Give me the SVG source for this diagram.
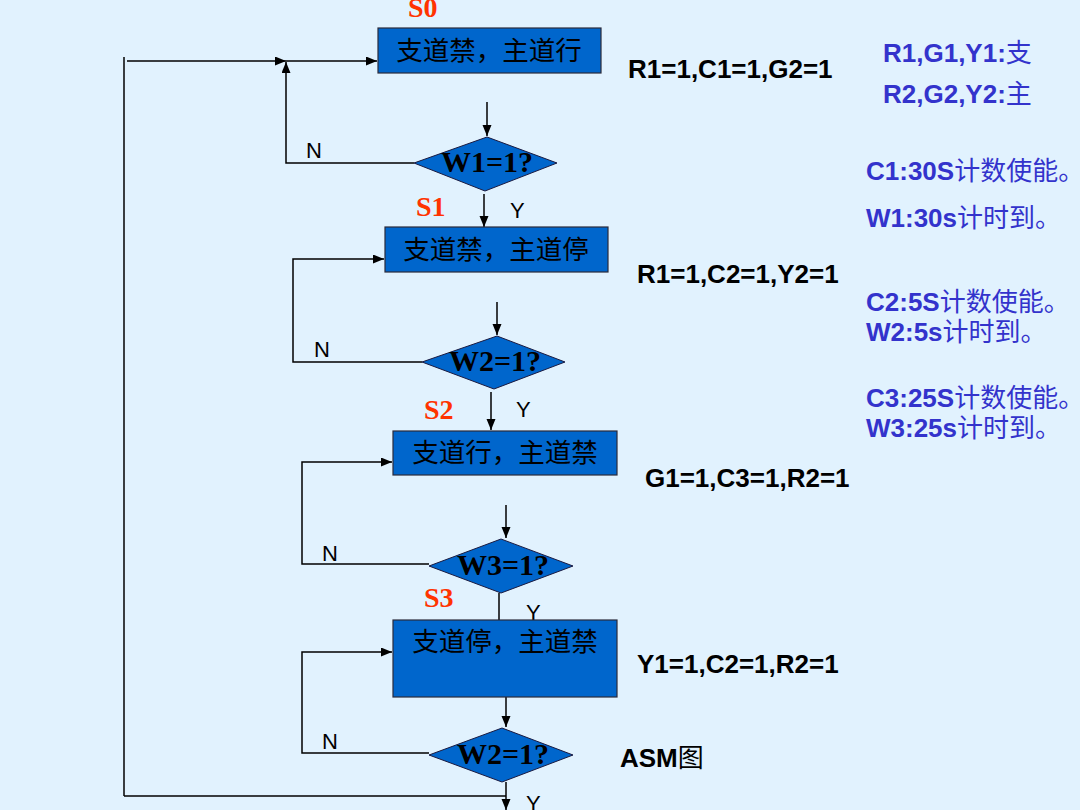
<svg xmlns="http://www.w3.org/2000/svg" width="1080" height="810" viewBox="0 0 1080 810">
<style>
.box{fill:#0066cc;stroke:#2a2a3a;stroke-width:1.2}
.dia{fill:#0066cc;stroke:#1a1a40;stroke-width:1}
.bt{font-family:"Noto Sans CJK SC",sans-serif;font-size:26.5px;fill:#000;text-anchor:middle}
.dt{font-family:"Liberation Serif","Times New Roman",serif;font-size:30px;font-weight:bold;fill:#000;text-anchor:middle}
.st{font-family:"Liberation Serif","Times New Roman",serif;font-size:28px;font-weight:bold;fill:#ff3300}
.yn{font-family:"Liberation Sans",Arial,sans-serif;font-size:22px;fill:#000}
.eq{font-family:"Liberation Sans",Arial,"Noto Sans CJK SC",sans-serif;font-size:26px;font-weight:bold;fill:#000}
.note{font-family:"Liberation Sans",Arial,"Noto Sans CJK SC",sans-serif;font-size:26px;font-weight:bold;fill:#3333cc}
.cj{font-family:"Noto Sans CJK SC",sans-serif;font-weight:normal}
.ln{fill:none;stroke:#000;stroke-width:1.5}
</style>
<defs>
<marker id="ah" markerUnits="userSpaceOnUse" markerWidth="12" markerHeight="10" refX="11" refY="4.5" orient="auto">
<path d="M0,0 L11,4.5 L0,9 z" fill="#000"/>
</marker>
</defs>
<rect width="1080" height="810" fill="#e1f2fe"/>

<g id="connectors">
<line class="ln" x1="124" y1="57" x2="124" y2="796"/>
<line class="ln" x1="124" y1="796" x2="506" y2="796"/>
<line class="ln" x1="127" y1="61" x2="286" y2="61" marker-end="url(#ah)"/>
<line class="ln" x1="286" y1="61" x2="377" y2="61" marker-end="url(#ah)"/>
<polyline class="ln" points="414,163 286,163 286,62" marker-end="url(#ah)"/>
<line class="ln" x1="487" y1="102" x2="487" y2="136" marker-end="url(#ah)"/>
<line class="ln" x1="484" y1="194" x2="484" y2="227" marker-end="url(#ah)"/>
<polyline class="ln" points="422,362 293,362 293,259 384,259" marker-end="url(#ah)"/>
<line class="ln" x1="497" y1="302" x2="497" y2="335" marker-end="url(#ah)"/>
<line class="ln" x1="491" y1="392" x2="491" y2="430" marker-end="url(#ah)"/>
<polyline class="ln" points="429,564 302,564 302,462 392,462" marker-end="url(#ah)"/>
<line class="ln" x1="506" y1="505" x2="506" y2="538" marker-end="url(#ah)"/>
<line class="ln" x1="499" y1="593" x2="499" y2="620"/>
<polyline class="ln" points="429,753 302,753 302,652 392,652" marker-end="url(#ah)"/>
<line class="ln" x1="506" y1="697" x2="506" y2="727" marker-end="url(#ah)"/>
<line class="ln" x1="506" y1="782" x2="506" y2="810" marker-end="url(#ah)"/>
</g>

<g id="S0">
<text class="st" x="408" y="17">S0</text>
<rect class="box" x="378" y="28" width="223" height="45"/>
<text class="bt" x="489" y="60">支道禁，主道行</text>
</g>
<g id="D1">
<polygon class="dia" points="414,163 487,137 557,163 485,191"/>
<text class="dt" x="487" y="172">W1=1?</text>
<text class="yn" x="306" y="158">N</text>
<text class="yn" x="510" y="218">Y</text>
</g>
<g id="S1">
<text class="st" x="416" y="216">S1</text>
<rect class="box" x="385" y="227" width="223" height="45"/>
<text class="bt" x="496" y="259">支道禁，主道停</text>
</g>
<g id="D2">
<polygon class="dia" points="422,362 497,336 565,362 494,389"/>
<text class="dt" x="495" y="371">W2=1?</text>
<text class="yn" x="314" y="357">N</text>
<text class="yn" x="516" y="417">Y</text>
</g>
<g id="S2">
<text class="st" x="424" y="419">S2</text>
<rect class="box" x="393" y="431" width="224" height="44"/>
<text class="bt" x="505" y="462">支道行，主道禁</text>
</g>
<g id="D3">
<polygon class="dia" points="429,566 501,539 573,566 501,593"/>
<text class="dt" x="503" y="575">W3=1?</text>
<text class="yn" x="322" y="561">N</text>
<text class="yn" x="526" y="620">Y</text>
</g>
<g id="S3">
<text class="st" x="424" y="607">S3</text>
<rect class="box" x="393" y="620" width="224" height="77"/>
<text class="bt" x="505" y="651">支道停，主道禁</text>
</g>
<g id="D4">
<polygon class="dia" points="429,755 502,728 573,755 502,782"/>
<text class="dt" x="503" y="764">W2=1?</text>
<text class="yn" x="322" y="749">N</text>
<text class="yn" x="526" y="811">Y</text>
</g>

<g id="outputs">
<text class="eq" x="628" y="78">R1=1,C1=1,G2=1</text>
<text class="eq" x="637" y="283">R1=1,C2=1,Y2=1</text>
<text class="eq" x="645" y="487">G1=1,C3=1,R2=1</text>
<text class="eq" x="637" y="673">Y1=1,C2=1,R2=1</text>
<text class="eq" x="620" y="767">ASM<tspan class="cj" font-weight="bold">图</tspan></text>
</g>

<g id="notes">
<text class="note" x="883" y="62">R1,G1,Y1:<tspan class="cj">支</tspan></text>
<text class="note" x="883" y="103">R2,G2,Y2:<tspan class="cj">主</tspan></text>
<text class="note" x="866" y="180">C1:30S<tspan class="cj">计数使能。</tspan></text>
<text class="note" x="866" y="227">W1:30s<tspan class="cj">计时到。</tspan></text>
<text class="note" x="866" y="311">C2:5S<tspan class="cj">计数使能。</tspan></text>
<text class="note" x="866" y="341">W2:5s<tspan class="cj">计时到。</tspan></text>
<text class="note" x="866" y="407">C3:25S<tspan class="cj">计数使能。</tspan></text>
<text class="note" x="866" y="437">W3:25s<tspan class="cj">计时到。</tspan></text>
</g>
</svg>
